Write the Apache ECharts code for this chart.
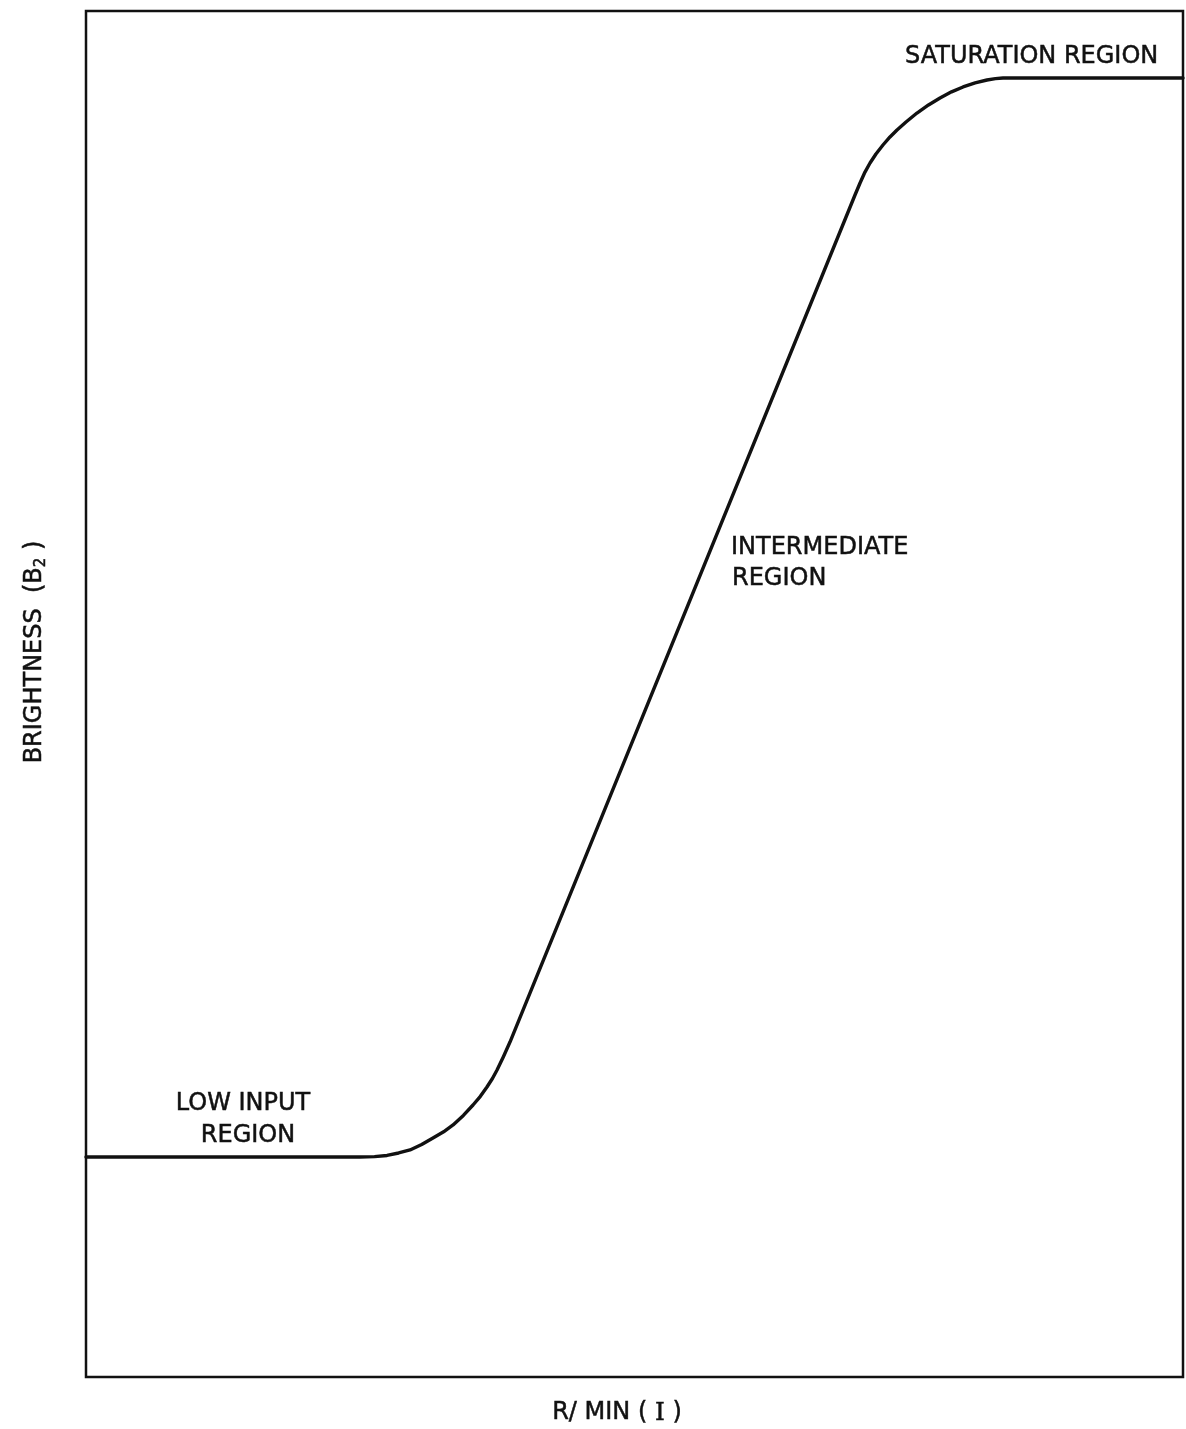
<!DOCTYPE html>
<html>
<head>
<meta charset="utf-8">
<script src="https://cdn.jsdelivr.net/npm/echarts@6/dist/echarts.min.js"></script>
<style>
html,body{margin:0;padding:0;background:#fff;}
#chart{width:1186px;height:1429px;}
</style>
</head>
<body>
<div id="chart"></div>
<script>
// Response curve (x: input, y: brightness), both in 0..100 units
const inputX = [0, 24.98, 26.3, 27.44, 28.5, 29.54, 30.6, 31.63, 32.6, 33.46, 34.4, 35.28, 35.95, 36.55, 37.05, 37.47, 38.05, 38.65, 70.10, 70.56, 71.01, 71.47, 72.01, 72.65, 73.29, 73.93, 74.75, 75.75, 76.8, 77.85, 78.9, 79.95, 81.05, 82.13, 82.9, 83.59, 100];
const brightnessY = [16.11, 16.11, 16.13, 16.22, 16.40, 16.62, 17.02, 17.50, 17.95, 18.45, 19.15, 19.91, 20.55, 21.23, 21.85, 22.47, 23.45, 24.52, 86.53, 87.41, 88.21, 88.87, 89.53, 90.19, 90.78, 91.29, 91.87, 92.53, 93.12, 93.63, 94.08, 94.44, 94.74, 94.95, 95.05, 95.10, 95.10];
const regionLabels = ['SATURATION REGION', 'INTERMEDIATE', 'REGION', 'LOW INPUT', 'REGION'];

const chart = echarts.init(document.getElementById('chart'));
const font = '"DejaVu Sans", "Liberation Sans", sans-serif';
const txt = (text, x, y, align) => ({
  type: 'text', x: x, y: y,
  style: {text: text, font: '24px ' + font, fill: '#111', stroke: '#111', lineWidth: 0.5, align: align || 'left', verticalAlign: 'middle'}
});
chart.setOption({
  animation: false,
  backgroundColor: '#fff',
  grid: {left: 86, right: 3, top: 11, bottom: 52, show: true, borderColor: '#111', borderWidth: 2.5, backgroundColor: 'transparent'},
  xAxis: {type: 'value', min: 0, max: 100, axisLine: {show: false}, axisTick: {show: false}, axisLabel: {show: false}, splitLine: {show: false}},
  yAxis: {type: 'value', min: 0, max: 100, axisLine: {show: false}, axisTick: {show: false}, axisLabel: {show: false}, splitLine: {show: false}},
  series: [{
    type: 'line',
    data: inputX.map((x, i) => [x, brightnessY[i]]),
    smooth: false,
    showSymbol: false,
    lineStyle: {color: '#111', width: 3.4, join: 'round', cap: 'round'},
    clip: false
  }],
  graphic: [
    txt(regionLabels[0], 905, 57),
    txt(regionLabels[1], 731, 548),
    txt(regionLabels[2], 732, 579),
    txt(regionLabels[3], 243, 1104, 'center'),
    txt(regionLabels[4], 248, 1136, 'center'),
    {type: 'text', x: 617, y: 1413,
      style: {text: 'R/ MIN ( {r|I} )', font: '24px ' + font, fill: '#111', stroke: '#111', lineWidth: 0.5, align: 'center', verticalAlign: 'middle',
        rich: {r: {fontFamily: '"DejaVu Serif", serif', fontSize: 25, fill: '#111'}}}},
    {type: 'text', x: 35, y: 652, rotation: Math.PI / 2,
      style: {text: 'BRIGHTNESS  (B{s|2} )', font: '24px ' + font, fill: '#111', stroke: '#111', lineWidth: 0.5, align: 'center', verticalAlign: 'middle',
        rich: {s: {fontSize: 15, fontFamily: '"DejaVu Sans", sans-serif', padding: [12, 0, 0, 0], fill: '#111'}}}}
  ]
});
</script>
</body>
</html>
